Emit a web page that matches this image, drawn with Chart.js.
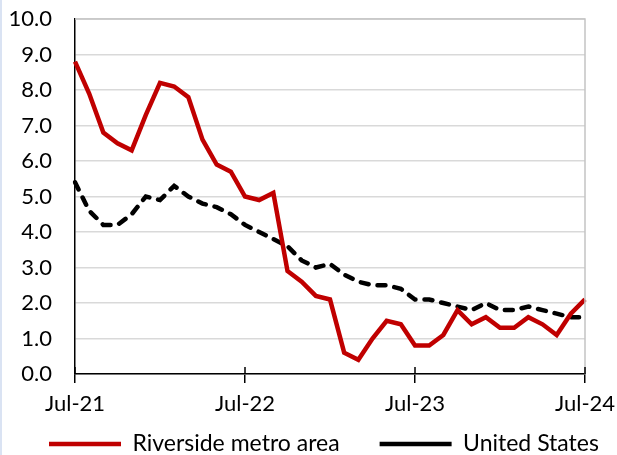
<!DOCTYPE html>
<html>
<head>
<meta charset="utf-8">
<script src="https://cdn.jsdelivr.net/npm/chart.js@4/dist/chart.umd.min.js"></script>
<style>
  body { margin: 0; background: #fff; }
  #wrap { position: relative; width: 617px; height: 455px; }
  #edge { position: absolute; left: 0; top: 0; width: 2px; height: 455px; background: #dae3f3; }
</style>
</head>
<body>
<div id="wrap">
  <canvas id="chart"></canvas>
  <div id="edge"></div>
</div>
<script>
// monthly, Jul-21 .. Jul-24
const months = ['Jul-21','Aug-21','Sep-21','Oct-21','Nov-21','Dec-21','Jan-22','Feb-22','Mar-22','Apr-22','May-22','Jun-22',
                'Jul-22','Aug-22','Sep-22','Oct-22','Nov-22','Dec-22','Jan-23','Feb-23','Mar-23','Apr-23','May-23','Jun-23',
                'Jul-23','Aug-23','Sep-23','Oct-23','Nov-23','Dec-23','Jan-24','Feb-24','Mar-24','Apr-24','May-24','Jun-24','Jul-24'];
const riverside = [8.8, 7.9, 6.8, 6.5, 6.3, 7.3, 8.2, 8.1, 7.8, 6.6, 5.9, 5.7,
                   5.0, 4.9, 5.1, 2.9, 2.6, 2.2, 2.1, 0.6, 0.4, 1.0, 1.5, 1.4,
                   0.8, 0.8, 1.1, 1.8, 1.4, 1.6, 1.3, 1.3, 1.6, 1.4, 1.1, 1.7, 2.1];
const unitedStates = [5.4, 4.6, 4.2, 4.2, 4.5, 5.0, 4.9, 5.3, 5.0, 4.8, 4.7, 4.5,
                      4.2, 4.0, 3.8, 3.6, 3.2, 3.0, 3.1, 2.8, 2.6, 2.5, 2.5, 2.4,
                      2.1, 2.1, 2.0, 1.9, 1.8, 2.0, 1.8, 1.8, 1.9, 1.8, 1.7, 1.6, 1.6];
const shownLabels = ['Jul-21', 'Jul-22', 'Jul-23', 'Jul-24'];

const font = { family: 'Lato', size: 22 };
const legendGap = 40;

// gray frame on top/right of the plot, plus the part of the year ticks above the axis
const frame = {
    id: 'frame',
    afterLayout(chart) {
        // legend sits a bit higher and wider than the layout box allows
        const lg = chart.legend;
        lg.left = 9;
        lg.right = 700;
        lg.top = 444 - 11.5 - legendGap;
        lg.bottom = 500;
    },
    afterDraw(chart) {
        const a = chart.chartArea, ctx = chart.ctx;
        const xs = chart.scales.x;
        ctx.save();
        ctx.strokeStyle = '#c4c4c4';
        ctx.lineWidth = 1.5;
        ctx.beginPath();
        ctx.moveTo(a.left, a.top);
        ctx.lineTo(a.right, a.top);
        ctx.lineTo(a.right, a.bottom);
        ctx.stroke();
        ctx.strokeStyle = '#000';
        ctx.beginPath();
        months.forEach((m, i) => {
            if (!shownLabels.includes(m)) return;
            const x = xs.getPixelForValue(i);
            ctx.moveTo(x, a.bottom - 7);
            ctx.lineTo(x, a.bottom);
        });
        ctx.stroke();
        ctx.restore();
    }
};

new Chart(document.getElementById('chart'), {
    type: 'line',
    data: {
        labels: months,
        datasets: [{
            label: 'Riverside metro area',
            data: riverside,
            borderColor: '#c00000',
            backgroundColor: '#c00000',
            borderWidth: 4.5,
            pointRadius: 0,
            tension: 0,
            borderJoinStyle: 'miter'
        }, {
            label: 'United States',
            data: unitedStates,
            borderColor: '#000000',
            backgroundColor: '#000000',
            borderWidth: 4.5,
            borderDash: [8, 9],
            borderCapStyle: 'round',
            pointRadius: 0,
            tension: 0
        }]
    },
    options: {
        responsive: true,
        maintainAspectRatio: false,
        animation: false,
        layout: { padding: { left: 8, right: 32, top: 19, bottom: 0 } },
        plugins: {
            tooltip: { enabled: false },
            legend: {
                position: 'bottom',
                align: 'start',
                maxHeight: 35,
                labels: {
                    font: { family: 'Lato', size: 23 },
                    color: '#000',
                    usePointStyle: true,
                    pointStyle: 'line',
                    pointStyleWidth: 72,
                    padding: legendGap
                }
            }
        },
        scales: {
            x: {
                border: { color: '#000', width: 1.5 },
                grid: {
                    drawOnChartArea: false,
                    tickLength: 9,
                    lineWidth: 1.5,
                    color: ctx => shownLabels.includes(months[ctx.index]) ? '#000' : 'rgba(0,0,0,0)'
                },
                ticks: {
                    font: font,
                    color: '#000',
                    maxRotation: 0,
                    autoSkip: false,
                    padding: 8,
                    callback: (v, i) => shownLabels.includes(months[i]) ? months[i] : ''
                },
                afterFit: scale => {
                    scale.height = 46;
                    scale.paddingLeft = 0;
                    scale.paddingRight = 0;
                }
            },
            y: {
                min: 0,
                max: 10,
                border: { color: '#000', width: 1.5 },
                grid: { color: '#d9d9d9', lineWidth: 1.5, drawTicks: false },
                ticks: {
                    stepSize: 1,
                    font: font,
                    color: '#000',
                    padding: 23,
                    callback: v => v.toFixed(1)
                },
                afterFit: scale => {
                    scale.width = 67;
                    scale.paddingTop = 0;
                    scale.paddingBottom = 0;
                }
            }
        }
    },
    plugins: [frame]
});
</script>
</body>
</html>
